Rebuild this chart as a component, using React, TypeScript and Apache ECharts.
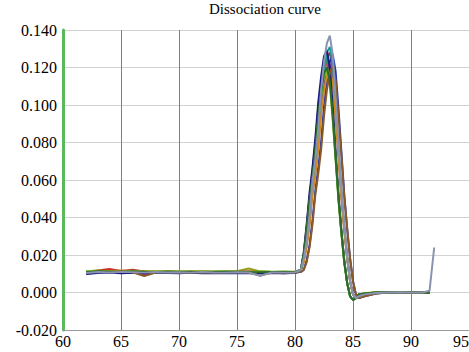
import React, { useEffect, useRef } from "react";
import * as echarts from "echarts";

// Temperature (°C) sample points shared by all wells
const temps = [
  62, 63, 64, 65, 66, 67, 68, 69, 70, 71, 72, 73, 74, 75, 76, 77, 78, 79, 80,
  80.5, 80.75, 81, 81.25, 81.5, 81.75, 82, 82.25, 82.5, 82.75, 83, 83.25, 83.5, 83.75,
  84, 84.25, 84.5, 84.75, 85, 85.25, 85.5,
  86, 87, 88, 89, 90, 91, 91.6, 92,
];

const xTicks = [60, 65, 70, 75, 80, 85, 90, 95];
const yTicks = [-0.02, 0, 0.02, 0.04, 0.06, 0.08, 0.1, 0.12, 0.14];

const wellColors = [
  "#d0302a", "#2e9a3a", "#2435b0", "#9a9a20", "#1a9a9a", "#7a3a9a",
  "#1a1a80", "#d08a20", "#7ab82a", "#8a5a2a", "#2a6a2a", "#8a94b0",
];

const wellRed = [
  0.0108, 0.0118, 0.0125, 0.0115, 0.0122, 0.0112, 0.011, 0.0113, 0.0111, 0.0109, 0.0112, 0.011, 0.0108, 0.0111, 0.0113, 0.0109, 0.011, 0.0108, 0.011,
  0.012, 0.017, 0.026, 0.039, 0.056, 0.067, 0.082, 0.102, 0.115, 0.125, 0.128, 0.12, 0.099, 0.076, 0.053, 0.035, 0.019, 0.006, -0.001, -0.003, -0.002,
  -0.001, -0.0003, 0.0, 0.0002, 0.0, -0.0002, 0.0, null,
];
const wellGreen = [
  0.0112, 0.0115, 0.011, 0.0113, 0.0116, 0.0111, 0.0109, 0.0112, 0.011, 0.0111, 0.0109, 0.0111, 0.0112, 0.011, 0.0108, 0.0111, 0.0109, 0.011, 0.0107,
  0.012, 0.02, 0.034, 0.05, 0.064, 0.079, 0.097, 0.111, 0.121, 0.124, 0.116, 0.096, 0.073, 0.05, 0.032, 0.016, 0.005, -0.002, -0.004, -0.003, -0.001,
  -0.0005, 0.0, 0.0002, 0.0, -0.0002, 0.0, 0.0, null,
];
const wellBlue = [
  0.01, 0.0108, 0.0112, 0.0106, 0.011, 0.0108, 0.0104, 0.0109, 0.0107, 0.0105, 0.0108, 0.0106, 0.0104, 0.0106, 0.0105, 0.0104, 0.0106, 0.0103, 0.0105,
  0.011, 0.012, 0.017, 0.025, 0.038, 0.054, 0.066, 0.08, 0.099, 0.113, 0.123, 0.127, 0.118, 0.098, 0.075, 0.052, 0.034, 0.018, 0.006, -0.001, -0.003,
  -0.002, -0.0005, 0.0, 0.0, 0.0001, 0.0, 0.0002, null,
];
const wellOlive = [
  0.011, 0.0112, 0.0114, 0.011, 0.0113, 0.0115, 0.0111, 0.0112, 0.011, 0.0113, 0.0111, 0.0112, 0.0114, 0.0113, 0.0128, 0.0112, 0.011, 0.0111, 0.0112,
  0.012, 0.021, 0.035, 0.051, 0.065, 0.08, 0.098, 0.112, 0.122, 0.125, 0.117, 0.097, 0.074, 0.051, 0.033, 0.017, 0.005, -0.002, -0.004, -0.003, -0.001,
  -0.0005, 0.0002, 0.0, 0.0003, 0.0, 0.0001, 0.0, null,
];
const wellTeal = [
  0.0105, 0.011, 0.0108, 0.0112, 0.0109, 0.0107, 0.011, 0.0108, 0.0109, 0.0107, 0.011, 0.0108, 0.0107, 0.0109, 0.0108, 0.0106, 0.0108, 0.0107, 0.0108,
  0.012, 0.017, 0.026, 0.04, 0.057, 0.069, 0.084, 0.104, 0.118, 0.128, 0.131, 0.122, 0.101, 0.077, 0.054, 0.035, 0.019, 0.006, -0.001, -0.003, -0.002,
  -0.001, -0.0002, 0.0001, 0.0, 0.0, -0.0001, 0.0, null,
];
const wellPurple = [
  0.0102, 0.0111, 0.0114, 0.0109, 0.0113, 0.0093, 0.0108, 0.011, 0.0109, 0.0111, 0.0107, 0.0109, 0.011, 0.0108, 0.011, 0.0107, 0.0109, 0.0108, 0.0109,
  0.012, 0.017, 0.025, 0.037, 0.053, 0.064, 0.078, 0.097, 0.11, 0.119, 0.122, 0.114, 0.095, 0.073, 0.051, 0.033, 0.018, 0.006, -0.001, -0.003, -0.002,
  -0.001, -0.0004, 0.0, 0.0001, 0.0002, 0.0, 0.0, null,
];
const wellNavy = [
  0.0098, 0.0104, 0.0106, 0.0103, 0.0105, 0.0102, 0.0106, 0.0104, 0.0103, 0.0105, 0.0102, 0.0104, 0.0103, 0.0102, 0.0104, 0.0103, 0.0102, 0.0103, 0.0104,
  0.012, 0.021, 0.036, 0.053, 0.066, 0.082, 0.101, 0.115, 0.126, 0.129, 0.12, 0.099, 0.075, 0.052, 0.033, 0.017, 0.005, -0.002, -0.004, -0.003, -0.001,
  -0.0006, 0.0, 0.0001, 0.0, -0.0001, 0.0, 0.0, null,
];
const wellOrange = [
  0.011, 0.0116, 0.0113, 0.0118, 0.0112, 0.011, 0.0113, 0.0111, 0.0112, 0.011, 0.0112, 0.0111, 0.0109, 0.0112, 0.011, 0.0111, 0.0109, 0.011, 0.0111,
  0.012, 0.016, 0.024, 0.036, 0.052, 0.063, 0.076, 0.095, 0.107, 0.116, 0.119, 0.112, 0.093, 0.072, 0.05, 0.033, 0.018, 0.006, -0.001, -0.003, -0.002,
  -0.001, -0.0002, 0.0002, 0.0, 0.0001, 0.0, 0.0001, null,
];
const wellLime = [
  0.0114, 0.0117, 0.0112, 0.0115, 0.0113, 0.0111, 0.0114, 0.0112, 0.0113, 0.0111, 0.0113, 0.0112, 0.011, 0.0112, 0.0111, 0.0113, 0.0111, 0.0112, 0.011,
  0.012, 0.019, 0.032, 0.048, 0.06, 0.074, 0.092, 0.105, 0.115, 0.118, 0.111, 0.092, 0.071, 0.049, 0.031, 0.016, 0.005, -0.002, -0.004, -0.003, -0.001,
  -0.0004, 0.0001, 0.0, 0.0002, 0.0, 0.0, 0.0001, null,
];
const wellBrown = [
  0.0106, 0.0112, 0.011, 0.0114, 0.0108, 0.0088, 0.0106, 0.0109, 0.0107, 0.0108, 0.0106, 0.0108, 0.0107, 0.0109, 0.0107, 0.009, 0.0106, 0.0107, 0.0106,
  0.011, 0.012, 0.016, 0.024, 0.036, 0.052, 0.063, 0.076, 0.094, 0.108, 0.117, 0.121, 0.113, 0.094, 0.073, 0.051, 0.034, 0.018, 0.006, -0.001, -0.003,
  -0.002, -0.0006, 0.0, 0.0001, 0.0, 0.0, 0.0001, null,
];
const wellDarkGreen = [
  0.0108, 0.0113, 0.0111, 0.0109, 0.0112, 0.011, 0.0108, 0.0111, 0.0109, 0.011, 0.0108, 0.011, 0.0109, 0.0111, 0.0109, 0.0108, 0.011, 0.0109, 0.0108,
  0.012, 0.02, 0.033, 0.049, 0.061, 0.076, 0.094, 0.107, 0.117, 0.12, 0.113, 0.094, 0.072, 0.05, 0.032, 0.016, 0.005, -0.002, -0.004, -0.003, -0.001,
  -0.0005, 0.0, 0.0001, 0.0, 0.0002, 0.0, 0.0, null,
];
const wellGray = [
  0.0104, 0.0109, 0.0107, 0.011, 0.0108, 0.0106, 0.0109, 0.0107, 0.0108, 0.0106, 0.0109, 0.0107, 0.0106, 0.0108, 0.0107, 0.0089, 0.0107, 0.0106, 0.0107,
  0.012, 0.018, 0.027, 0.041, 0.059, 0.071, 0.087, 0.108, 0.123, 0.133, 0.137, 0.127, 0.104, 0.079, 0.055, 0.036, 0.019, 0.006, -0.001, -0.003, -0.002,
  -0.001, -0.0003, 0.0, 0.0001, 0.0, 0.0, 0.001, 0.024,
];

const wells = [
  wellOlive, wellRed, wellBlue, wellGreen, wellPurple, wellTeal,
  wellOrange, wellNavy, wellLime, wellBrown, wellDarkGreen, wellGray,
];
const wellOrderColors = [
  wellColors[3], wellColors[0], wellColors[2], wellColors[1], wellColors[5], wellColors[4],
  wellColors[7], wellColors[6], wellColors[8], wellColors[9], wellColors[10], wellColors[11],
];

const SERIF = "Liberation Serif";

export default function App() {
  const ref = useRef<HTMLDivElement>(null);

  useEffect(() => {
    if (!ref.current) return;
    const chart = echarts.init(ref.current, undefined, { renderer: "svg" });
    const series = wells.map((arr, k) => ({
      type: "line",
      name: "well" + (k + 1),
      data: temps
        .map((t, i) => [t, arr[i]])
        .filter((p) => p[1] !== null && p[1] !== undefined),
      showSymbol: false,
      symbol: "none",
      lineStyle: { color: wellOrderColors[k], width: 2 },
      itemStyle: { color: wellOrderColors[k] },
      z: 3,
    }));
    chart.setOption({
      animation: false,
      backgroundColor: "#ffffff",
      textStyle: { fontFamily: SERIF },
      title: {
        text: "Dissociation curve",
        left: 265,
        top: 1,
        textAlign: "center",
        padding: 0,
        textStyle: {
          fontFamily: SERIF,
          fontSize: 15,
          fontWeight: "normal",
          color: "#000",
        },
      },
      grid: {
        left: 63,
        right: 0,
        top: 30,
        bottom: 22,
        containLabel: false,
        outerBoundsMode: "none",
      },
      xAxis: {
        type: "value",
        min: xTicks[0],
        max: xTicks[xTicks.length - 1],
        interval: 5,
        axisLine: { show: true, onZero: false, lineStyle: { color: "#9a9a9a", width: 1 } },
        axisTick: { show: false },
        axisLabel: {
          color: "#000",
          fontFamily: SERIF,
          fontSize: 16,
          margin: 3,
          showMaxLabel: true,
          showMinLabel: true,
          alignMaxLabel: "right",
        },
        splitLine: { show: true, lineStyle: { color: "#7f7f7f", width: 1 } },
      },
      yAxis: {
        type: "value",
        min: yTicks[0],
        max: yTicks[yTicks.length - 1],
        interval: 0.02,
        axisLine: { show: true, onZero: false, lineStyle: { color: "#5cb85c", width: 3 } },
        axisTick: { show: false },
        axisLabel: {
          color: "#000",
          fontFamily: SERIF,
          fontSize: 16,
          margin: 6,
          formatter: (v: number) => v.toFixed(3),
        },
        splitLine: { show: true, lineStyle: { color: "#d2d2d2", width: 1 } },
      },
      series,
    });
    return () => chart.dispose();
  }, []);

  return <div ref={ref} style={{ width: 469, height: 352, position: "absolute", left: 0, top: 0 }} />;
}
